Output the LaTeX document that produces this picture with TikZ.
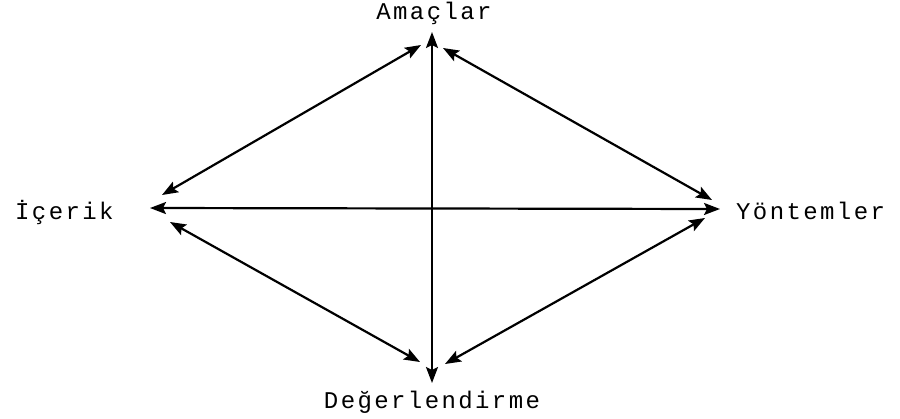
\documentclass[tikz,border=0pt]{standalone}
\usepackage{fontspec}
\setmonofont[LetterSpace=10]{Liberation Mono}
\usetikzlibrary{arrows.meta}
\begin{document}
\begin{tikzpicture}[x=1pt,y=-1pt,
  lbl/.style={font=\ttfamily\fontsize{24}{24}\selectfont, inner sep=0pt},
  link/.style={line width=2.2pt, {Stealth[length=16pt,width=12pt,inset=3pt]}-{Stealth[length=16pt,width=12pt,inset=3pt]}}]
\useasboundingbox (0,0) rectangle (900,418);
\node[lbl] (ama) at (434,13) {Amaçlar};
\node[lbl, anchor=west] (ice) at (15,212) {İçerik};
\node[lbl, anchor=west] (yon) at (736,211) {Yöntemler};
\node[lbl] (deg) at (432,402) {Değerlendirme};
\coordinate (t) at (432,32);
\coordinate (b) at (432,383);
\coordinate (l) at (150,208);
\coordinate (r) at (720,209);
\coordinate (tl1) at (162,195);
\coordinate (tl2) at (421,45);
\coordinate (tr1) at (443,48);
\coordinate (tr2) at (712,200);
\coordinate (bl1) at (170,222);
\coordinate (bl2) at (420,362);
\coordinate (br1) at (445,364);
\coordinate (br2) at (705,218);
\draw[link] (t) -- (b);
\draw[link] (l) -- (r);
\draw[link] (tl1) -- (tl2);
\draw[link] (tr1) -- (tr2);
\draw[link] (bl1) -- (bl2);
\draw[link] (br1) -- (br2);
\end{tikzpicture}
\end{document}
